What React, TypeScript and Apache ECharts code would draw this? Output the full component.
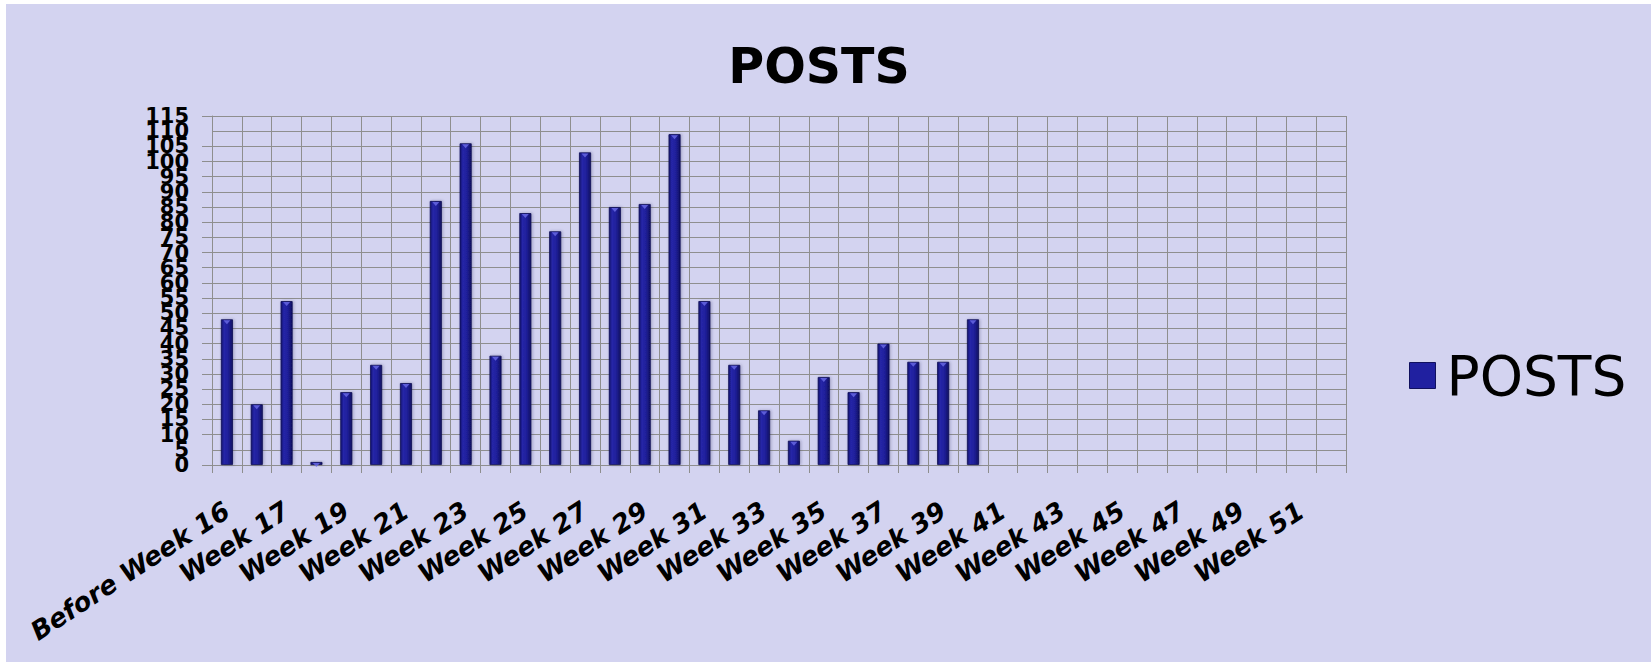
import React, { useEffect, useRef } from "react";
import * as echarts from "echarts";

const categories = [
  "Before Week 16", "Week 16", "Week 17", "Week 18", "Week 19", "Week 20", "Week 21",
  "Week 22", "Week 23", "Week 24", "Week 25", "Week 26", "Week 27", "Week 28",
  "Week 29", "Week 30", "Week 31", "Week 32", "Week 33", "Week 34", "Week 35",
  "Week 36", "Week 37", "Week 38", "Week 39", "Week 40", "Week 41", "Week 42",
  "Week 43", "Week 44", "Week 45", "Week 46", "Week 47", "Week 48", "Week 49",
  "Week 50", "Week 51", "Week 52",
];

const posts = [
  48, 20, 54, 1, 24, 33, 27, 87, 106, 36, 83, 77, 103, 85, 86, 109, 54, 33, 18, 8,
  29, 24, 40, 34, 34, 48, null, null, null, null, null, null, null, null, null,
  null, null, null,
];

const yMin = 0;
const yMax = 115;
const yStep = 5;
// tick labels that ECharts would drop next to the min/max labels; drawn by an overlay axis
const yOverlayLabels = [5, 110];

const FONT = "'DejaVu Sans', Verdana, sans-serif";
const GRID_COLOR = "#8e8e8e";

export default function App() {
  const ref = useRef<HTMLDivElement>(null);

  useEffect(() => {
    if (!ref.current) return;
    const chart = echarts.init(ref.current, null, { renderer: "svg" });
    const barColor = new echarts.graphic.LinearGradient(0, 0, 1, 0, [
      { offset: 0, color: "#13136e" },
      { offset: 0.25, color: "#2626a8" },
      { offset: 0.6, color: "#1f1f9a" },
      { offset: 1, color: "#111162" },
    ]);
    const yLabelStyle = {
      margin: 23,
      fontFamily: FONT,
      fontSize: 21,
      fontWeight: "bold",
      color: "#000",
    };
    chart.setOption({
      animation: false,
      backgroundColor: "#d3d3f0",
      title: {
        text: "POSTS",
        left: 808,
        top: 33,
        textAlign: "center",
        textStyle: {
          fontFamily: FONT,
          fontSize: 49,
          fontWeight: "bold",
          color: "#000",
        },
      },
      legend: {
        data: ["POSTS"],
        left: 1398,
        top: 339,
        itemWidth: 26,
        itemHeight: 26,
        icon: "rect",
        textStyle: {
          fontFamily: FONT,
          fontSize: 55,
          color: "#000",
          padding: [0, 0, 0, 6],
        },
        itemStyle: { color: "#2020a0", borderColor: "#10105e", borderWidth: 1 },
      },
      grid: {
        left: 206,
        top: 112,
        width: 1134,
        height: 349,
        containLabel: false,
      },
      xAxis: {
        type: "category",
        data: categories,
        boundaryGap: true,
        axisLine: { show: true, lineStyle: { color: GRID_COLOR, width: 1 } },
        axisTick: { show: true, interval: 0, length: 8, lineStyle: { color: GRID_COLOR } },
        splitLine: { show: true, interval: 0, lineStyle: { color: GRID_COLOR, width: 1 } },
        axisLabel: {
          interval: 1,
          rotate: 33,
          margin: 43,
          fontFamily: FONT,
          fontSize: 26,
          fontWeight: "bold",
          fontStyle: "italic",
          color: "#000",
        },
      },
      yAxis: [
        {
          type: "value",
          min: yMin,
          max: yMax,
          interval: yStep,
          axisLine: { show: true, lineStyle: { color: GRID_COLOR, width: 1 } },
          axisTick: { show: true, length: 10, lineStyle: { color: GRID_COLOR } },
          splitLine: { show: true, lineStyle: { color: GRID_COLOR, width: 1 } },
          axisLabel: {
            ...yLabelStyle,
            showMinLabel: true,
            showMaxLabel: true,
          },
        },
        {
          type: "value",
          position: "left",
          min: yMin,
          max: yMax,
          interval: yStep,
          axisLine: { show: false },
          axisTick: { show: false },
          splitLine: { show: false },
          axisLabel: {
            ...yLabelStyle,
            showMinLabel: false,
            showMaxLabel: false,
            formatter: (v: number) => (yOverlayLabels.includes(v) ? String(v) : ""),
          },
        },
      ],
      series: [
        {
          name: "POSTS",
          type: "bar",
          data: posts,
          barWidth: 12,
          itemStyle: {
            color: barColor,
            borderColor: "#0e0e55",
            borderWidth: 0.8,
            shadowColor: "rgba(40,40,90,0.35)",
            shadowBlur: 3,
            shadowOffsetX: 1,
          },
        },
        {
          name: "cap",
          type: "scatter",
          data: posts,
          symbol: "path://M0,0 L10,0 L5,5 Z",
          symbolSize: [7, 4],
          symbolOffset: [0, 3],
          silent: true,
          itemStyle: { color: "#6c6ce6" },
          z: 3,
        },
      ],
    });
    return () => chart.dispose();
  }, []);

  return (
    <div
      ref={ref}
      style={{
        position: "absolute",
        left: 6,
        top: 4,
        width: 1645,
        height: 658,
      }}
    />
  );
}
